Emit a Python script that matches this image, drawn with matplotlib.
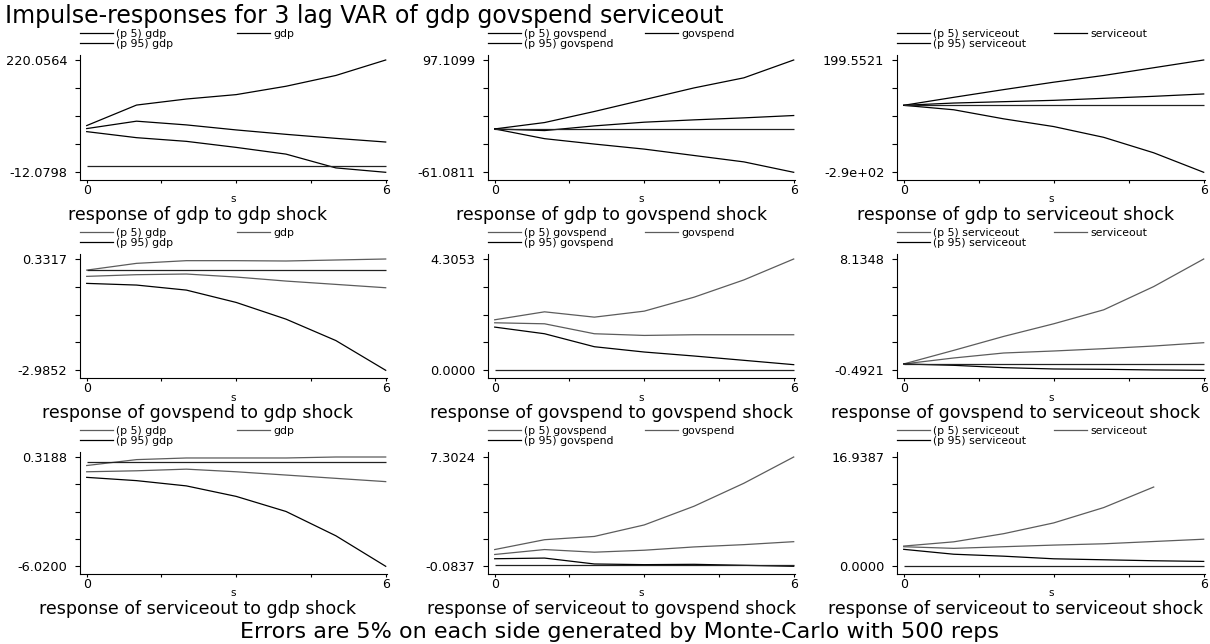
import numpy as np
import matplotlib.pyplot as plt

plt.rcParams['font.family'] = ['DejaVu Sans']

W, H = 1210, 644

steps = [0, 1, 2, 3, 4, 5, 6]
variables = ['gdp', 'govspend', 'serviceout']

# rows: response variable, columns: shocked variable
gdp_gdp_upper = [84.5, 126.9, 139.4, 148.5, 165.8, 188.1, 220.0564]
gdp_gdp_mid = [78.3, 93.6, 85.9, 75.5, 66.4, 58.1, 50.5]
gdp_gdp_lower = [72.0, 59.5, 51.9, 39.4, 25.5, -3.0, -12.0798]

gdp_gov_upper = [0.0, 9.0, 24.6, 41.2, 57.8, 72.0, 97.1099]
gdp_gov_mid = [0.0, -2.3, 4.3, 9.5, 12.8, 15.6, 18.9]
gdp_gov_lower = [0.0, -13.7, -21.3, -28.4, -37.4, -46.4, -61.0811]

gdp_serv_upper = [0.0, 35.2, 69.2, 101.8, 131.4, 165.5, 199.5521]
gdp_serv_mid = [0.0, 10.0, 16.0, 21.9, 30.8, 39.6, 50.0]
gdp_serv_lower = [0.0, -19.6, -59.6, -93.6, -141.0, -209.1, -295.0]

gov_gdp_upper = [0.0, 0.202, 0.282, 0.282, 0.272, 0.302, 0.3317]
gov_gdp_mid = [-0.186, -0.136, -0.116, -0.206, -0.326, -0.425, -0.525]
gov_gdp_lower = [-0.395, -0.445, -0.595, -0.963, -1.461, -2.099, -2.9852]

gov_gov_upper = [1.954, 2.262, 2.056, 2.288, 2.828, 3.496, 4.3053]
gov_gov_mid = [1.838, 1.799, 1.414, 1.349, 1.375, 1.375, 1.375]
gov_gov_lower = [1.671, 1.414, 0.912, 0.707, 0.553, 0.386, 0.218]

gov_serv_upper = [0.0, 1.053, 2.135, 3.113, 4.196, 5.998, 8.1348]
gov_serv_mid = [0.0, 0.463, 0.849, 1.004, 1.184, 1.390, 1.647]
gov_serv_lower = [0.0, -0.106, -0.286, -0.389, -0.415, -0.466, -0.4921]

serv_gdp_upper = [-0.176, 0.167, 0.262, 0.262, 0.262, 0.3188, 0.3188]
serv_gdp_mid = [-0.538, -0.481, -0.386, -0.538, -0.728, -0.919, -1.109]
serv_gdp_lower = [-0.862, -1.052, -1.357, -1.966, -2.841, -4.250, -6.0200]

serv_gov_upper = [1.048, 1.713, 1.935, 2.711, 3.976, 5.528, 7.3024]
serv_gov_mid = [0.715, 1.048, 0.870, 1.003, 1.225, 1.380, 1.580]
serv_gov_lower = [0.427, 0.472, 0.073, 0.028, 0.050, -0.017, -0.0837]

serv_serv_upper = [3.135, 3.792, 5.056, 6.725, 9.101, 12.287, np.nan]
serv_serv_mid = [3.034, 2.781, 3.034, 3.287, 3.489, 3.843, 4.197]
serv_serv_lower = [2.629, 1.871, 1.567, 1.163, 1.011, 0.860, 0.758]

panels = [
    (gdp_gdp_upper, gdp_gdp_mid, gdp_gdp_lower),
    (gdp_gov_upper, gdp_gov_mid, gdp_gov_lower),
    (gdp_serv_upper, gdp_serv_mid, gdp_serv_lower),
    (gov_gdp_upper, gov_gdp_mid, gov_gdp_lower),
    (gov_gov_upper, gov_gov_mid, gov_gov_lower),
    (gov_serv_upper, gov_serv_mid, gov_serv_lower),
    (serv_gdp_upper, serv_gdp_mid, serv_gdp_lower),
    (serv_gov_upper, serv_gov_mid, serv_gov_lower),
    (serv_serv_upper, serv_serv_mid, serv_serv_lower),
]

y_top = [220.0564, 97.1099, 199.5521, 0.3317, 4.3053, 8.1348, 0.3188, 7.3024, 16.9387]
y_bottom = [-12.0798, -61.0811, -295.0, -2.9852, 0.0, -0.4921, -6.0200, -0.0837, 0.0]
y_top_labels = ['220.0564', '97.1099', '199.5521', '0.3317', '4.3053', '8.1348',
                '0.3188', '7.3024', '16.9387']
y_bottom_labels = ['-12.0798', '-61.0811', '-2.9e+02', '-2.9852', '0.0000', '-0.4921',
                   '-6.0200', '-0.0837', '0.0000']

x_ticks = [0, 1.5, 3, 4.5, 6]
x_tick_labels = ['0', '', '', '', '6']

# layout in pixels
col_left = [80, 488, 897]
col_right = [387, 795, 1205]
row_top = [55, 254, 452]
row_bottom = [180, 378, 574]
sub_x = [197.5, 611.7, 1015.5]

fig = plt.figure(figsize=(W / 100, H / 100), dpi=100)

for k, (upper, mid, lower) in enumerate(panels):
    r, c = divmod(k, 3)
    w_px = col_right[c] - col_left[c]
    h_px = row_bottom[r] - row_top[r]
    ax = fig.add_axes([col_left[c] / W, 1 - row_bottom[r] / H, w_px / W, h_px / H])

    grey = 'black' if r == 0 else '#5c5c5c'
    l_up, = ax.plot(steps, upper, color=grey, lw=0.9)
    l_mid, = ax.plot(steps, mid, color=grey, lw=0.9)
    l_lo, = ax.plot(steps, lower, color='black', lw=0.9)
    ax.hlines(0, steps[0], steps[-1], color='#222222', lw=0.9)

    # axis ranges with the small plot-region margins
    px_per_unit = (w_px - 6.7 - 1.3) / 6
    ax.set_xlim(-6.7 / px_per_unit, 6 + 1.3 / px_per_unit)
    span = y_top[k] - y_bottom[k]
    tick_px = h_px - 5 - 7.7
    ax.set_ylim(y_bottom[k] - span * 7.7 / tick_px, y_top[k] + span * 5 / tick_px)

    ax.set_yticks(np.linspace(y_bottom[k], y_top[k], 5))
    ax.set_yticklabels([y_bottom_labels[k], '', '', '', y_top_labels[k]])
    ax.set_xticks(x_ticks)
    ax.set_xticklabels(x_tick_labels)
    ax.tick_params(axis='y', length=3.6, width=0.8, pad=5.5, labelsize=9.3)
    ax.tick_params(axis='x', length=2.2, width=0.8, pad=1, labelsize=9)
    for s in ['top', 'right']:
        ax.spines[s].set_visible(False)
    for s in ['left', 'bottom']:
        ax.spines[s].set_linewidth(0.8)

    ax.annotate('s', xy=(0.5, 0), xycoords='axes fraction', xytext=(0, -22.5 * 0.72),
                textcoords='offset points', ha='center', va='baseline', fontsize=7.5)

    imp = variables[c]
    leg_kw = dict(loc='lower left', frameon=False, borderpad=0, borderaxespad=0,
                  handlelength=3.0, handletextpad=0.35, labelspacing=0.0, fontsize=7.8)
    leg1 = ax.legend([l_up, l_lo], [f'(p 5) {imp}', f'(p 95) {imp}'],
                     bbox_to_anchor=(0, 1 + 6 / h_px), **leg_kw)
    ax.add_artist(leg1)
    ax.legend([l_mid], [imp], bbox_to_anchor=(157 / w_px, 1 + 16 / h_px), **leg_kw)

    fig.text(sub_x[c] / W, 1 - (row_bottom[r] + 40) / H,
             f'response of {variables[r]} to {imp} shock',
             ha='center', va='baseline', fontsize=12.5)

fig.text(5 / W, 1 - 23.3 / H, 'Impulse-responses for 3 lag VAR of gdp govspend serviceout',
         ha='left', va='baseline', fontsize=17)
fig.text(619.5 / W, 1 - 638 / H,
         'Errors are 5% on each side generated by Monte-Carlo with 500 reps',
         ha='center', va='baseline', fontsize=16)

fig.savefig('out.png', dpi=100)
